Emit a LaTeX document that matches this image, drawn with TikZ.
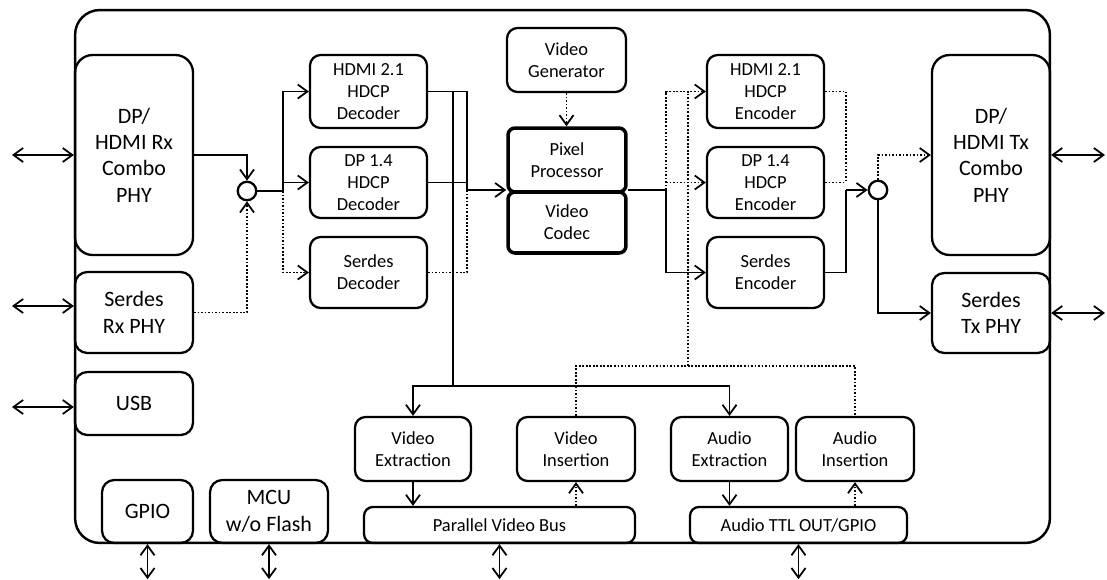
\documentclass[tikz,border=0pt]{standalone}
\usepackage{fontspec}
\setmainfont{Carlito}
\usetikzlibrary{positioning, calc, arrows.meta}
\tikzstyle{Line} = [line width=1pt]
\tikzstyle{DotLine} = [line width=1pt, dash pattern=on 1pt off 1pt]
\tikzstyle{Arrow} = [Line, -{Straight Barb[length=5.5pt,width=8pt]}]
\tikzstyle{DotArrow} = [DotLine, -{Straight Barb[length=5.5pt,width=8pt]}]
\tikzstyle{BiArrow} = [Line, {Straight Barb[length=5.5pt,width=8pt]}-{Straight Barb[length=5.5pt,width=8pt]}]
\newcommand{\smallfont}{\fontsize{10.5}{12.5}\selectfont}
\newcommand{\largefont}{\fontsize{12.5}{15}\selectfont}

\begin{document}
\begin{tikzpicture}[
x=0.02cm, y=-0.02cm,
block/.style={
    draw,
    line width=1.3pt,
    rounded corners=6pt,
    align=center,
    inner sep=0pt,
    font=\smallfont,
    minimum width=2.34cm,
    minimum height=1.44cm
    },
phy/.style={block, rounded corners=10pt, font=\largefont, minimum width=2.36cm},
core/.style={block, line width=2pt, rounded corners=4pt, minimum width=2.36cm},
bus/.style={block, rounded corners=5pt, minimum height=0.72cm},
junction/.style={circle, draw, line width=1.3pt, minimum size=0.37cm, inner sep=0pt}
]
\useasboundingbox (0,0) rectangle (1107,579);

\node [draw, line width=1.4pt, rounded corners=14pt, inner sep=0pt,
    minimum width=19.5cm, minimum height=10.66cm] (chip) at (562.5,276.5) {};

% receive side
\node [phy, minimum height=4cm] (rxphy) at (134,155) {DP/\\HDMI Rx\\Combo\\PHY};
\node [phy, rounded corners=7pt, minimum height=1.62cm] (rxser) at (134,312.5) {Serdes\\Rx PHY};
\node [phy, rounded corners=7pt, minimum height=1.26cm] (usb) at (134,403.5) {USB};
\node [phy, rounded corners=7pt, minimum width=1.82cm, minimum height=1.26cm] (gpio) at (147.5,511.5) {GPIO};
\node [phy, rounded corners=7pt, minimum height=1.26cm] (mcu) at (269,511.5) {MCU\\w/o Flash};
\node [junction] (lcirc) at (247,191) {};

\node [block, minimum height=1.46cm] (hdmidec) at (368.5,91.5) {HDMI 2.1\\HDCP\\Decoder};
\node [block, minimum height=1.42cm] (dpdec) at (368.5,182.5) {DP 1.4\\HDCP\\Decoder};
\node [block, minimum height=1.42cm] (serdec) at (368.5,272.5) {Serdes\\Decoder};

% core
\node [block, minimum width=2.38cm, minimum height=1.28cm] (vgen) at (566.5,60) {Video\\Generator};
\node [core, minimum height=1.28cm] (pixproc) at (567,160) {Pixel\\Processor};
\node [core, minimum height=1.22cm] (codec) at (567,222.5) {Video\\Codec};

% transmit side
\node [block, minimum height=1.46cm] (hdmienc) at (765.5,91.5) {HDMI 2.1\\HDCP\\Encoder};
\node [block, minimum height=1.42cm] (dpenc) at (765.5,182.5) {DP 1.4\\HDCP\\Encoder};
\node [block, minimum height=1.42cm] (serenc) at (765.5,272.5) {Serdes\\Encoder};
\node [junction] (rcirc) at (878,190) {};
\node [phy, minimum height=4cm] (txphy) at (991,155) {DP/\\HDMI Tx\\Combo\\PHY};
\node [phy, rounded corners=7pt, minimum height=1.6cm] (txser) at (991,313) {Serdes\\Tx PHY};

% extraction / insertion
\node [block, minimum width=2.32cm, minimum height=1.28cm] (vext) at (413,449) {Video\\Extraction};
\node [block, minimum width=2.36cm, minimum height=1.28cm] (vins) at (576,449) {Video\\Insertion};
\node [block, minimum width=2.34cm, minimum height=1.28cm] (aext) at (729.5,449) {Audio\\Extraction};
\node [block, minimum width=2.36cm, minimum height=1.28cm] (ains) at (855,449) {Audio\\Insertion};
\node [bus, minimum width=5.42cm] (pvbus) at (499.5,525) {Parallel Video Bus};
\node [bus, minimum width=4.34cm] (attl) at (798.5,525) {Audio TTL OUT/GPIO};

\coordinate (lsplit) at (283,191);
\coordinate (dsplit) at (467,190);
\coordinate (vtap) at (453,386);
\coordinate (esplit) at (666,190);
\coordinate (itap) at (688,366);
\coordinate (rsplit) at (846,190);

% outside links
\coordinate (lio1) at (12,155);
\coordinate (lio2) at (12,306);
\coordinate (lio3) at (12,407);
\coordinate (rio1) at (1105,155);
\coordinate (rio2) at (1105,313);
\draw[BiArrow] (lio1) -- (lio1 -| rxphy.west);
\draw[BiArrow] (lio2) -- (lio2 -| rxser.west);
\draw[BiArrow] (lio3) -- (lio3 -| usb.west);
\draw[BiArrow] (txphy.east) -- (rio1);
\draw[BiArrow] (txser.east) -- (rio2);
\foreach \n in {gpio, mcu, pvbus, attl}
    \draw[BiArrow] (\n.south) -- ++(0,35);

\draw[Arrow] (rxphy.east) -| (lcirc.north);
\draw[DotArrow] (rxser.east) -| (lcirc.south);
\draw[Line] (lcirc.east) -- (lsplit);
\draw[Arrow] (lsplit) |- (hdmidec.west);
\draw[Arrow] (lsplit |- dpdec.west) -- (dpdec.west);
\draw[DotArrow] (lsplit) |- (serdec.west);

\draw[Line] (hdmidec.east) -| (dsplit);
\draw[Line] (dpdec.east) -- (dpdec.east -| dsplit);
\draw[DotLine] (serdec.east) -| (dsplit);
\draw[Arrow] (dsplit) -- (dsplit -| pixproc.west);
\draw[Line] (vtap |- hdmidec.east) -- (vtap);
\draw[Arrow] (vtap) -| (vext.north);
\draw[Arrow] (vtap) -| (aext.north);

\draw[DotArrow] (vgen.south) -- (vgen.south |- pixproc.north);

\draw[Line] (esplit -| pixproc.east) -- (esplit);
\draw[DotArrow] (esplit) |- (hdmienc.west);
\draw[DotArrow] (esplit |- dpenc.west) -- (dpenc.west);
\draw[Arrow] (esplit) |- (serenc.west);
\draw[DotLine] (vins.north) |- (ains.north |- itap) -- (ains.north);
\draw[DotLine] (itap) -- (itap |- hdmienc.west);

\draw[DotLine] (hdmienc.east) -| (rsplit |- dpenc.east);
\draw[DotLine] (dpenc.east) -- (dpenc.east -| rsplit);
\draw[Line] (serenc.east) -| (rsplit);
\draw[Arrow] (rsplit) -- (rcirc.west);
\draw[DotArrow] (rcirc.north) |- (txphy.west);
\draw[Arrow] (rcirc.south) |- (txser.west);

\draw[Arrow] (vext.south) -- (vext.south |- pvbus.north);
\draw[DotArrow] (vins.south |- pvbus.north) -- (vins.south);
\draw[Arrow] (aext.south) -- (aext.south |- attl.north);
\draw[DotArrow] (ains.south |- attl.north) -- (ains.south);

\end{tikzpicture}
\end{document}
